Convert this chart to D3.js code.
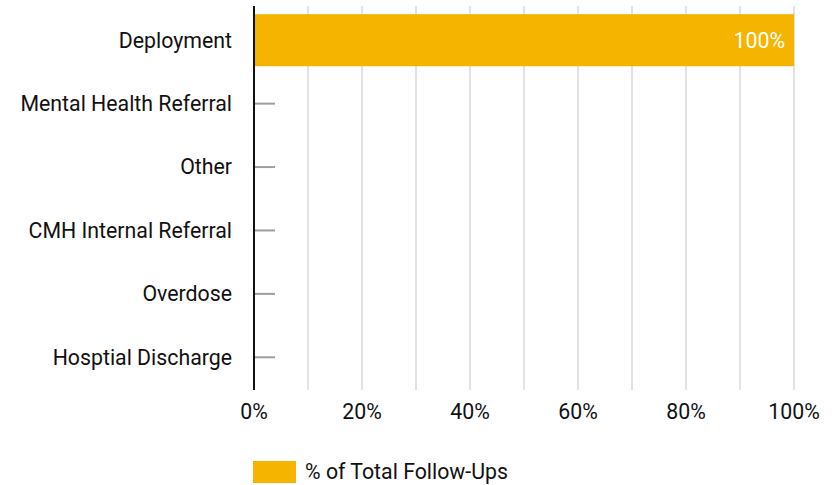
<!DOCTYPE html>
<html>
<head>
<meta charset="utf-8">
<script src="https://cdn.jsdelivr.net/npm/d3@7"></script>
<style>
  html, body { margin: 0; padding: 0; background: #fff; }
  svg { display: block; font-family: Roboto, "Noto Sans", sans-serif; }
</style>
</head>
<body>
<svg id="chart" width="839" height="485"></svg>
<script>
// Share of follow-ups by referral source
const categories = ["Deployment", "Mental Health Referral", "Other", "CMH Internal Referral", "Overdose", "Hosptial Discharge"];
const shareValues = [100, 0, 0, 0, 0, 0];
const xTicks = [0, 20, 40, 60, 80, 100];
const gridTicks = [10, 20, 30, 40, 50, 60, 70, 80, 90, 100];
const seriesName = "% of Total Follow-Ups";

const svg = d3.select("#chart");
const plot = { left: 254, right: 794, top: 8.5, bottom: 389 };
const barColor = "#F4B400";
const textColor = "#111";
const fontSize = 21.3;

const x = d3.scaleLinear().domain([0, 100]).range([plot.left, plot.right]);
const y = d3.scaleBand().domain(categories).range([plot.top, plot.bottom]).paddingInner(0.18).paddingOuter(0.09);

// vertical gridlines
svg.append("g").selectAll("line").data(gridTicks).join("line")
  .attr("x1", d => x(d)).attr("x2", d => x(d))
  .attr("y1", 6).attr("y2", 390)
  .attr("stroke", "#d9d9d9").attr("stroke-width", 1.5);

// bars
const rows = categories.map((c, i) => ({ cat: c, v: shareValues[i] }));
svg.append("g").selectAll("rect").data(rows.filter(d => d.v > 0)).join("rect")
  .attr("x", x(0)).attr("y", d => y(d.cat))
  .attr("width", d => x(d.v) - x(0)).attr("height", y.bandwidth())
  .attr("fill", barColor);

// zero-value markers
svg.append("g").selectAll("line").data(rows.filter(d => d.v === 0)).join("line")
  .attr("x1", x(0)).attr("x2", x(0) + 21)
  .attr("y1", d => y(d.cat) + y.bandwidth() / 2).attr("y2", d => y(d.cat) + y.bandwidth() / 2)
  .attr("stroke", "#9e9e9e").attr("stroke-width", 2);

// value labels inside bars
svg.append("g").selectAll("text").data(rows.filter(d => d.v > 0)).join("text")
  .attr("x", d => x(d.v) - 9).attr("y", d => y(d.cat) + y.bandwidth() / 2)
  .attr("dy", "0.35em").attr("text-anchor", "end")
  .attr("fill", "#fff").attr("font-size", fontSize)
  .text(d => d.v + "%");

// baseline
svg.append("line")
  .attr("x1", x(0)).attr("x2", x(0)).attr("y1", 6).attr("y2", 390)
  .attr("stroke", "#111").attr("stroke-width", 2);

// category labels
svg.append("g").selectAll("text").data(categories).join("text")
  .attr("x", 232).attr("y", d => y(d) + y.bandwidth() / 2)
  .attr("dy", "0.35em").attr("text-anchor", "end")
  .attr("fill", textColor).attr("font-size", fontSize)
  .text(d => d);

// x tick labels
svg.append("g").selectAll("text").data(xTicks).join("text")
  .attr("x", d => x(d)).attr("y", 412)
  .attr("dy", "0.35em").attr("text-anchor", "middle")
  .attr("fill", textColor).attr("font-size", fontSize)
  .text(d => d + "%");

// legend
const lg = svg.append("g");
lg.append("rect").attr("x", 253).attr("y", 461).attr("width", 43).attr("height", 22).attr("fill", barColor);
lg.append("text").attr("x", 305).attr("y", 472).attr("dy", "0.35em")
  .attr("fill", textColor).attr("font-size", fontSize).text(seriesName);
</script>
</body>
</html>
